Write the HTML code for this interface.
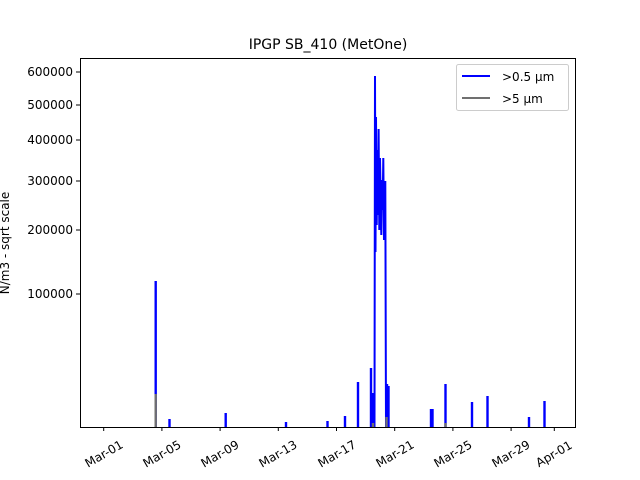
<!DOCTYPE html>
<html><head><meta charset="utf-8"><style>body{margin:0;background:#fff}svg{display:block}text{font-family:"DejaVu Sans","Liberation Sans",sans-serif;fill:#000}</style></head><body>
<svg width="640" height="480" viewBox="0 0 640 480" xmlns="http://www.w3.org/2000/svg">
<text x="328" y="49" font-size="14" text-anchor="middle">IPGP SB_410 (MetOne)</text>
<g stroke="#0000ff" stroke-width="2.4" fill="none">
<path d="M155.7 427V281M169.5 427V419M225.7 427V413M286 427V422M327.5 427V421M345 427V416M358 427V382M371 427V368M373 427V393M431 427V409M432.5 427V409M445.5 427V384M472 427V402M487.5 427V396M529 427V417M544.5 427V401M387 427V384M388.5 427V386"/>
<polyline stroke-width="2" points="374.5,427 375,76 375.5,252 376,117 376.7,225 377.3,150 378,215 378.6,129 379.3,230 380,158 380.7,200 381.3,235 382,180 382.6,210 383.3,158 384,240 384.6,190 385.3,181 386,427"/>
</g>
<g stroke="#707070" stroke-width="2.4"><path d="M155.7 427V394M386.5 427V417M373 427V423M445.5 427V423"/></g>
<rect x="80.5" y="58.5" width="495" height="369" fill="none" stroke="#000" stroke-width="1"/>
<g stroke="#000" stroke-width="1">
<path d="M103.7 427v4M161.9 427v4M220.1 427v4M278.3 427v4M336.5 427v4M394.7 427v4M452.9 427v4M511.1 427v4M554.3 427v4"/>
<path d="M80 72h-4M80 105h-4M80 140h-4M80 181h-4M80 230h-4M80 294h-4"/>
</g>
<g font-size="12" text-anchor="end">
<text x="73" y="76">600000</text><text x="73" y="109">500000</text><text x="73" y="144">400000</text><text x="73" y="185">300000</text><text x="73" y="234">200000</text><text x="73" y="298">100000</text>
</g>
<g font-size="12" text-anchor="middle">
<text transform="translate(104,454) rotate(-30)" dy="4">Mar-01</text>
<text transform="translate(162,454) rotate(-30)" dy="4">Mar-05</text>
<text transform="translate(220,454) rotate(-30)" dy="4">Mar-09</text>
<text transform="translate(278,454) rotate(-30)" dy="4">Mar-13</text>
<text transform="translate(337,454) rotate(-30)" dy="4">Mar-17</text>
<text transform="translate(395,454) rotate(-30)" dy="4">Mar-21</text>
<text transform="translate(453,454) rotate(-30)" dy="4">Mar-25</text>
<text transform="translate(511,454) rotate(-30)" dy="4">Mar-29</text>
<text transform="translate(554,454) rotate(-30)" dy="4">Apr-01</text>
</g>
<text transform="translate(9,243) rotate(-90)" font-size="12" text-anchor="middle">N/m3 - sqrt scale</text>
<rect x="456.5" y="64.5" width="112" height="46" rx="2" fill="#fff" stroke="#ccc"/>
<line x1="462" y1="76" x2="490" y2="76" stroke="#0000ff" stroke-width="2"/>
<line x1="462" y1="98" x2="490" y2="98" stroke="#707070" stroke-width="2"/>
<text x="502" y="81" font-size="12">&gt;0.5 µm</text>
<text x="502" y="103" font-size="12">&gt;5 µm</text>
</svg>
</body></html>
